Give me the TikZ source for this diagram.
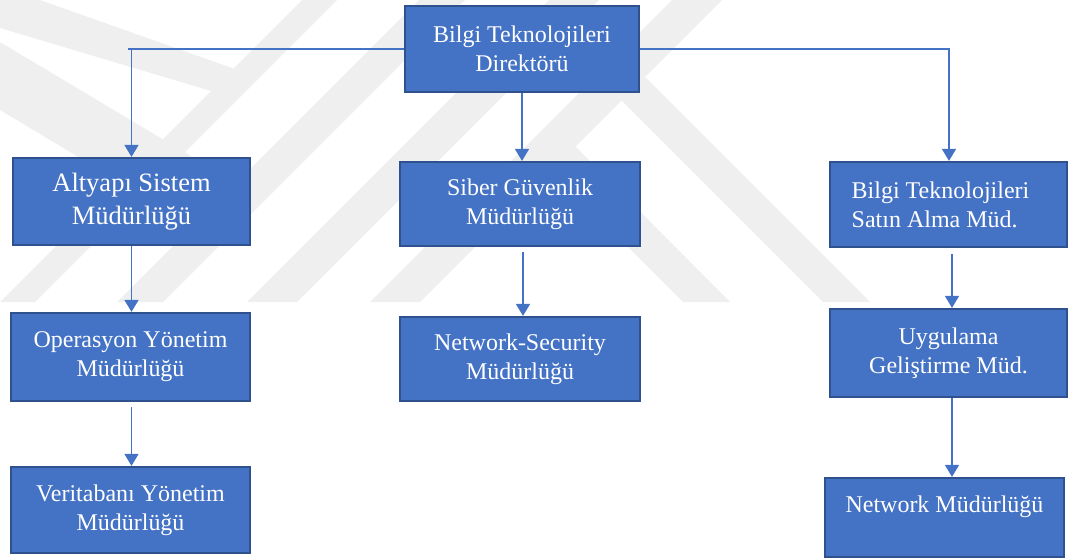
\documentclass[tikz,border=0pt]{standalone}
\usepackage{fontspec}
\setmainfont{Liberation Serif}
\usetikzlibrary{arrows.meta}
\definecolor{boxfill}{HTML}{4472C4}
\definecolor{boxline}{HTML}{2F528F}
\definecolor{connc}{HTML}{4472C4}
\definecolor{wm}{HTML}{EFEFEF}
\begin{document}
\begin{tikzpicture}[x=1pt,y=-1pt,
  box/.style={draw=boxline, line width=2.2pt, fill=boxfill, text=white,
    font=\fontsize{24}{29}\selectfont, align=center, inner sep=0pt},
  conn/.style={draw=connc, line width=1.3pt, -{Triangle[width=14pt,length=12pt]}},
  wmark/.style={fill=wm, draw=none}]
\useasboundingbox (0,0) rectangle (1080,560);
% faint watermark
\fill[wmark] (0,302) -- (35,302) -- (337,0) -- (302,0) -- cycle;
\fill[wmark] (117,302) -- (163,302) -- (465,0) -- (419,0) -- cycle;
\fill[wmark] (247,302) -- (297,302) -- (599,0) -- (549,0) -- cycle;
\fill[wmark] (370,302) -- (420,302) -- (722,0) -- (672,0) -- cycle;
\fill[wmark] (0,0) -- (40,0) -- (233.5,68.5) -- (211,91) -- (0,28) -- cycle;
\fill[wmark] (0,42) -- (236,183) -- (193,226) -- (0,110) -- cycle;
\fill[wmark] (551,170) -- (575,146) -- (730,302) -- (683,302) -- cycle;
\fill[wmark] (621,100) -- (645,77) -- (870,302) -- (823,302) -- cycle;
% boxes
\node[box, minimum width=234, minimum height=86] (top) at (522,49) {Bilgi Teknolojileri\\Direktörü};
\node[box, minimum width=237, minimum height=87, font=\fontsize{26.5}{33}\selectfont] (alt) at (131.5,201.5) {Altyapı Sistem\\Müdürlüğü};
\node[box, minimum width=240, minimum height=84] (sib) at (520,204) {Siber Güvenlik\\Müdürlüğü};
\node[box, minimum width=237, minimum height=85, align=left] (sat) at (948.5,204.5) {Bilgi Teknolojileri\hspace*{16pt}\\Satın Alma Müd.};
\node[box, minimum width=239, minimum height=88] (ops) at (130.5,357) {Operasyon Yönetim\\Müdürlüğü};
\node[box, minimum width=240, minimum height=84] (nsec) at (520,359) {Network-Security\\Müdürlüğü};
\node[box, minimum width=239, minimum height=86] (ver) at (130.5,510) {Veritabanı Yönetim\\Müdürlüğü};
\node[box, minimum width=237, minimum height=88] (uyg) at (948.5,353) {Uygulama\\Geliştirme Müd.};
\node[box, minimum width=239, minimum height=79] (net) at (944.5,517.5) {\raisebox{10pt}[0.7em][0.25em]{Network Müdürlüğü}};
% connectors
\coordinate (lend) at ([xshift=-4pt]alt.north |- top.west);
\draw[draw=connc, line width=1.3pt] (top.west) -- (lend);
\draw[conn] (top.west) -| (alt.north);
\draw[conn] (top.east) -| ([xshift=0.5pt]sat.north);
\draw[conn] (top.south) -- (top.south |- sib.north);
\draw[conn] ([yshift=-5pt,xshift=3pt]sib.south) -- ([xshift=3pt]nsec.north);
\draw[conn] (alt.south) -- (alt.south |- ops.north);
\draw[conn] ([xshift=1pt,yshift=-5pt]ops.south) -- ([xshift=1pt]ver.north);
\draw[conn] ([xshift=3.5pt,yshift=-6pt]sat.south) -- ([xshift=3.5pt]uyg.north);
\draw[conn] ([xshift=3.5pt]uyg.south) -- ([xshift=3.5pt]uyg.south |- net.north);
\end{tikzpicture}
\end{document}
